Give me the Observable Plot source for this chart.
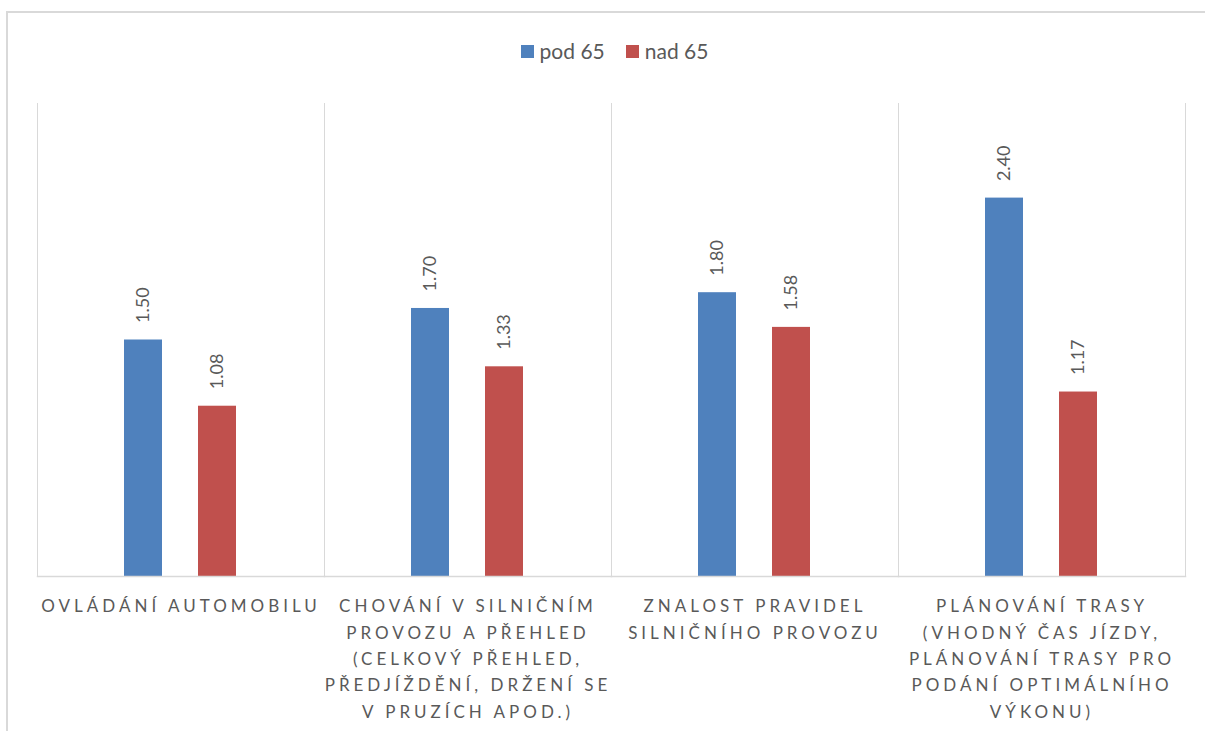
<!DOCTYPE html>
<html>
<head>
<meta charset="utf-8">
<script src="https://cdn.jsdelivr.net/npm/d3@7"></script>
<script src="https://cdn.jsdelivr.net/npm/@observablehq/plot@0.6"></script>
<style>
  html, body { margin: 0; padding: 0; background: #fff; }
  #chart { position: relative; width: 1205px; height: 731px; overflow: hidden; background: #fff; font-family: Lato, "Open Sans", sans-serif; }
  #frame { position: absolute; left: 6px; top: 11px; width: 1300px; height: 900px; border: 2px solid #d9d9d9; box-sizing: border-box; }
  #legend { position: absolute; top: 40px; left: 0; width: 1229px; display: flex; justify-content: center; gap: 21px; font-size: 21px; line-height: 22px; color: #595959; }
  #legend .item { display: flex; align-items: center; gap: 6px; }
  #legend .swatch { width: 13px; height: 13px; display: inline-block; }
  #plot { position: absolute; top: 80px; left: 0; }
</style>
</head>
<body>
<div id="chart">
  <div id="frame"></div>
  <div id="legend"></div>
  <div id="plot"></div>
</div>
<script>
// Categories (full names) and the wrapped lines shown under each group
const categories = [
  "Ovládání automobilu",
  "Chování v silničním provozu a přehled (celkový přehled, předjíždění, držení se v pruzích apod.)",
  "Znalost pravidel silničního provozu",
  "Plánování trasy (vhodný čas jízdy, plánování trasy pro podání optimálního výkonu)"
];
const tickLabels = [
  "OVLÁDÁNÍ AUTOMOBILU",
  "CHOVÁNÍ V SILNIČNÍM\nPROVOZU A PŘEHLED\n(CELKOVÝ PŘEHLED,\nPŘEDJÍŽDĚNÍ, DRŽENÍ SE\nV PRUZÍCH APOD.)",
  "ZNALOST PRAVIDEL\nSILNIČNÍHO PROVOZU",
  "PLÁNOVÁNÍ TRASY\n(VHODNÝ ČAS JÍZDY,\nPLÁNOVÁNÍ TRASY PRO\nPODÁNÍ OPTIMÁLNÍHO\nVÝKONU)"
];
const seriesNames = ["pod 65", "nad 65"];
const pod65 = [1.50, 1.70, 1.80, 2.40];
const nad65 = [1.08, 1.33, 1.58, 1.17];
const seriesColors = ["#4F81BD", "#C0504D"];

const rows = categories.flatMap((category, i) => [
  {category, series: seriesNames[0], value: pod65[i]},
  {category, series: seriesNames[1], value: nad65[i]}
]);

// Legend above the plot
const legend = d3.select("#legend");
seriesNames.forEach((name, i) => {
  const item = legend.append("div").attr("class", "item");
  item.append("span").attr("class", "swatch").style("background", seriesColors[i]);
  item.append("span").text(name);
});

const grid = "#d9d9d9";
const textColor = "#595959";

const chart = Plot.plot({
  width: 1205,
  height: 651,
  marginTop: 23,
  marginBottom: 155,
  marginLeft: 36,
  marginRight: 19,
  fx: {domain: categories, padding: 0, axis: null},
  x: {domain: seriesNames, paddingInner: 0.48, paddingOuter: 1.16, axis: null},
  y: {domain: [0, 3], axis: null},
  color: {domain: seriesNames, range: seriesColors},
  style: {fontFamily: "Lato, 'Open Sans', sans-serif", background: "transparent", color: textColor, overflow: "visible"},
  marks: [
    // category separators
    Plot.frame({anchor: "left", stroke: grid, strokeWidth: 1}),
    Plot.frame({anchor: "right", stroke: grid, strokeWidth: 1}),
    Plot.barY(rows, {fx: "category", x: "series", y: "value", fill: "series"}),
    Plot.frame({anchor: "bottom", stroke: grid, strokeWidth: 1.5}),
    // value labels, rotated above each bar
    Plot.text(rows, {
      fx: "category", x: "series", y: "value",
      text: d => d.value.toFixed(2),
      rotate: -90, textAnchor: "start", dy: -17,
      fontSize: 18, fill: textColor
    }),
    // category labels below the baseline
    Plot.text(categories, {
      fx: d => d,
      text: (d, i) => tickLabels[i],
      frameAnchor: "bottom", lineAnchor: "top",
      dy: 17, lineHeight: 1.55,
      fontSize: 17, fill: textColor
    })
  ]
});

// spaced-out capitals for the category labels
d3.select(chart).selectAll("text")
  .filter(function () { return /[A-ZÁČĚÍŘŠÝŽ]{3}/.test(this.textContent); })
  .style("letter-spacing", "4px");
document.getElementById("plot").appendChild(chart);
</script>
</body>
</html>
